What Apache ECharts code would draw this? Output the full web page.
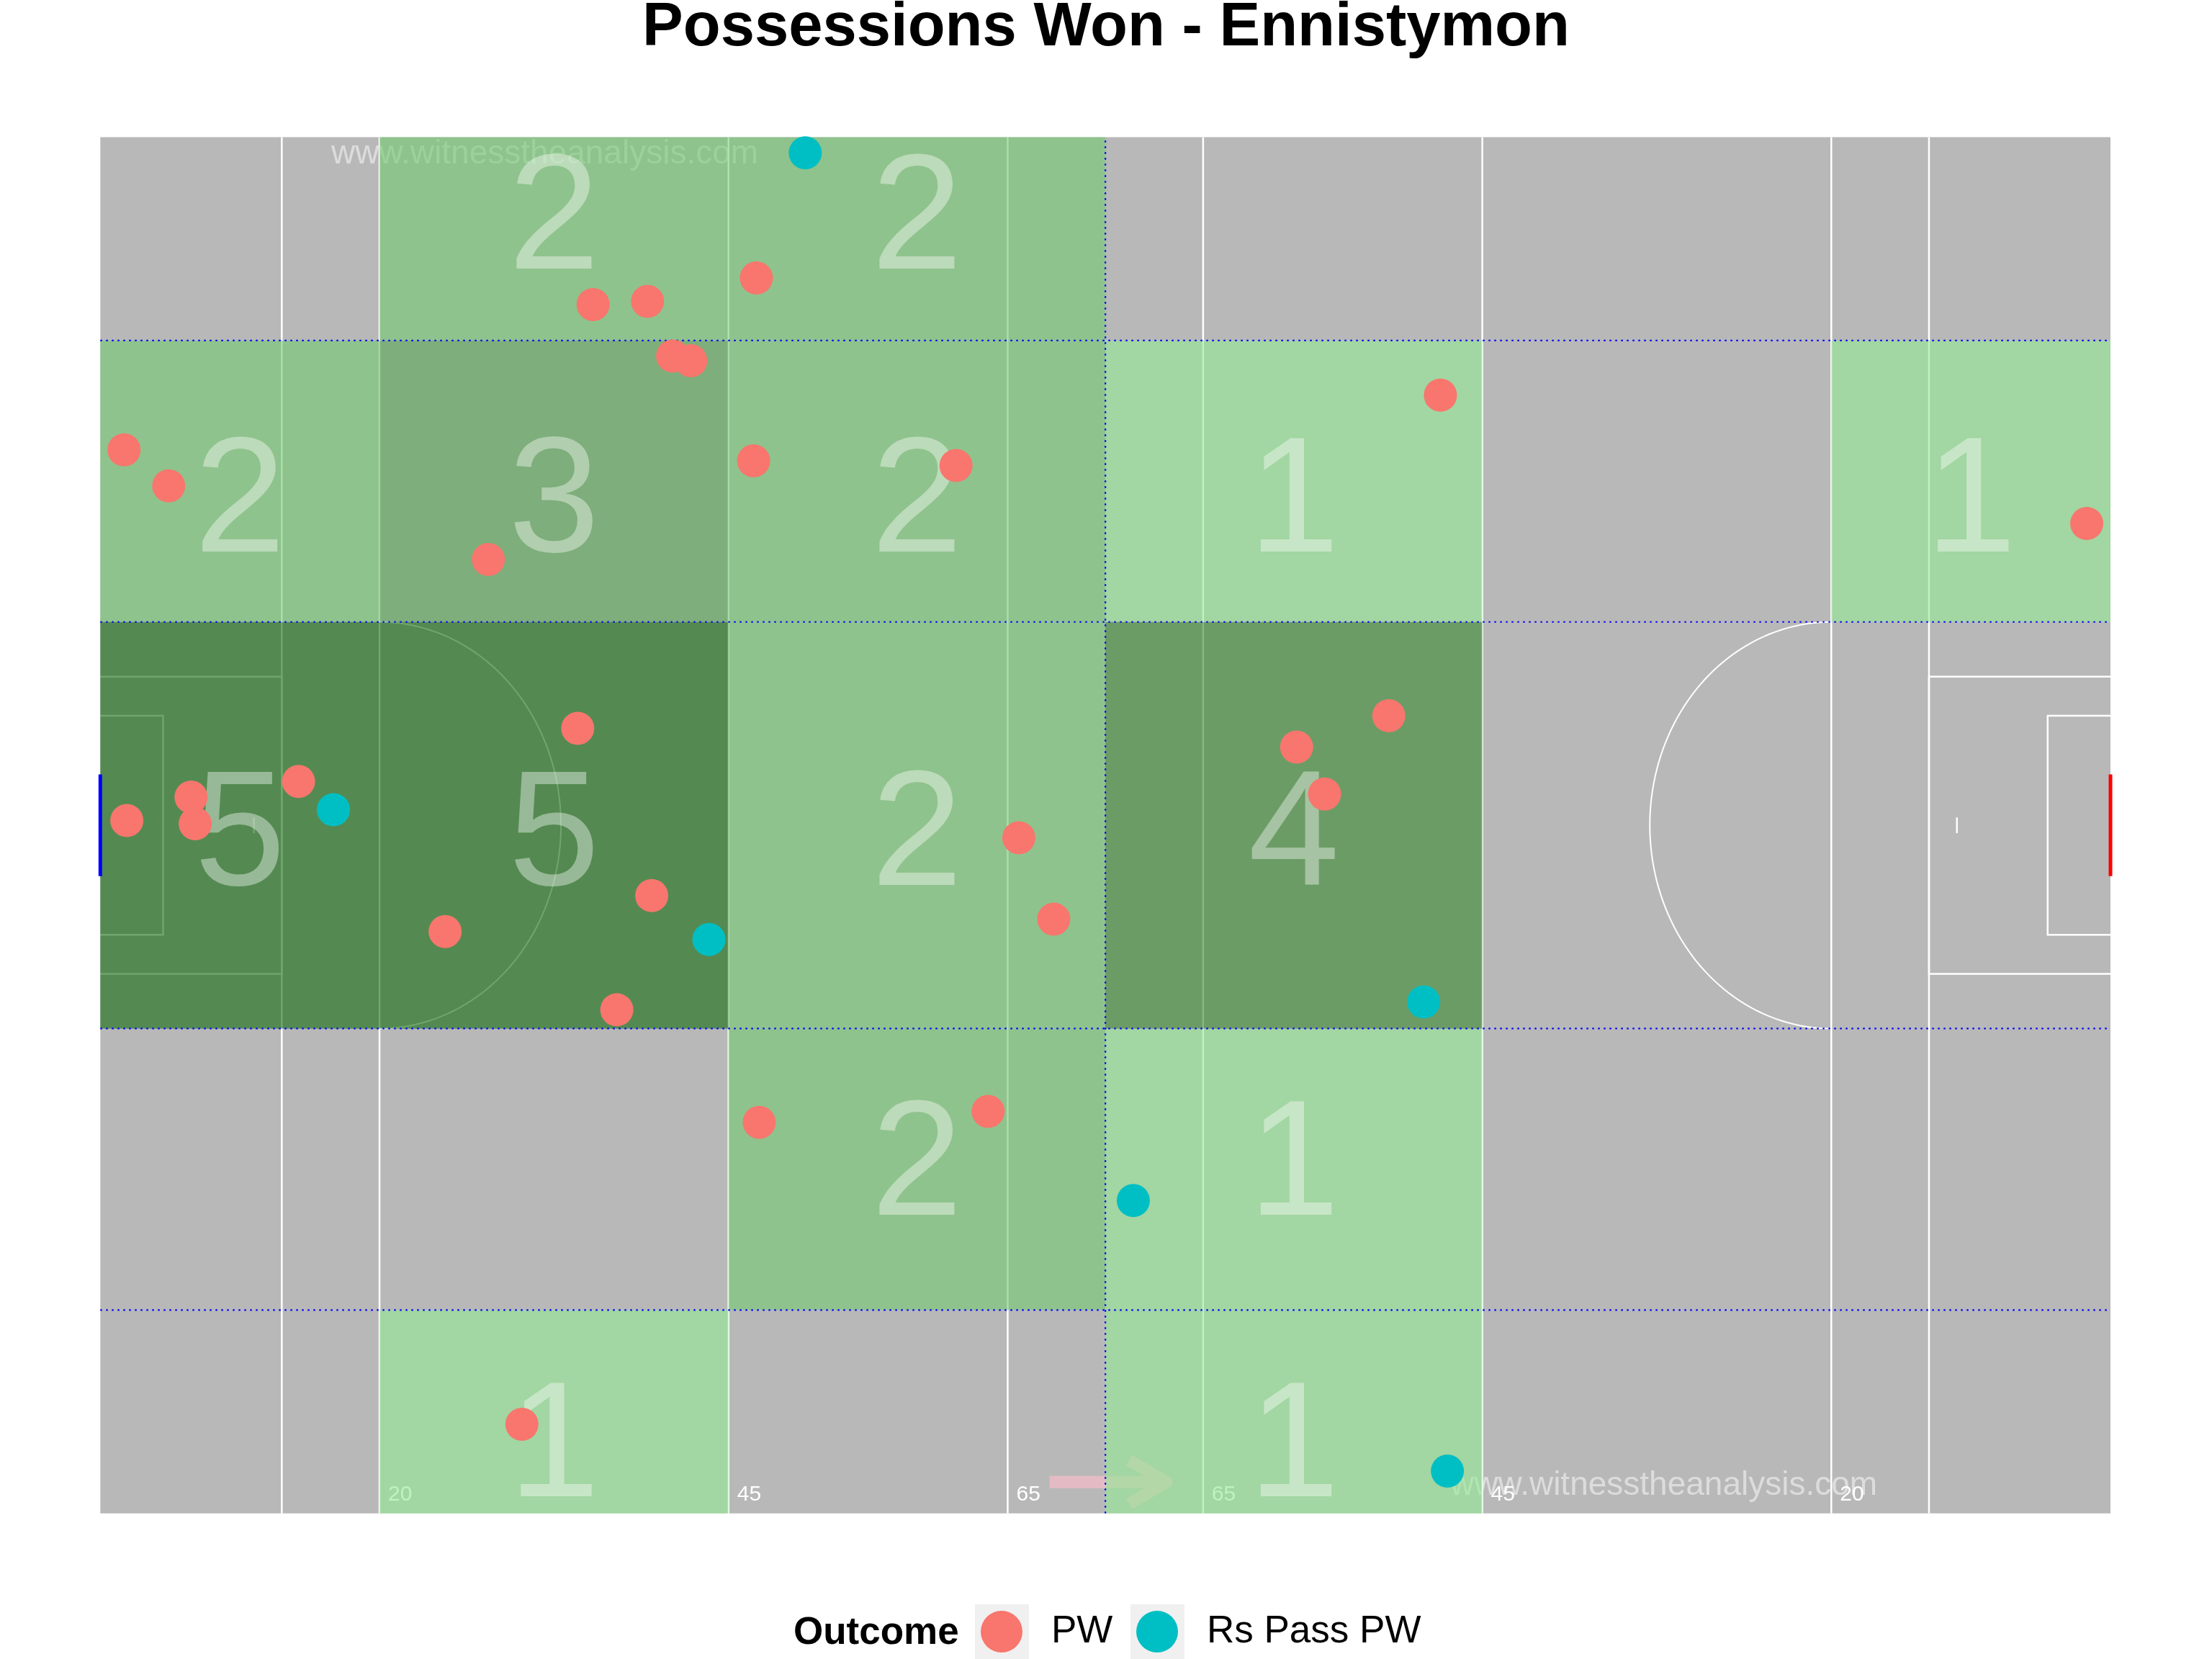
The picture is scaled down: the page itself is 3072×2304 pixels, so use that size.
<!DOCTYPE html>
<html lang="en">
<head>
  <meta charset="UTF-8">
  <title>Possessions Won - Ennistymon</title>
  <script src="https://cdn.jsdelivr.net/npm/echarts@6.0.0/dist/echarts.min.js"></script>
  <style>
    * { margin: 0; padding: 0; }
    html, body { width: 100%; height: 100%; background-color: #fff; }
    #chart { width: 3072px; height: 2304px; }
  </style>
</head>
<body>
<div id="chart"></div>
<script>
  // pitch in metres
  var pitchLength = 144;
  var pitchWidth = 88;
  var zoneX = [0, 20, 45, 72, 99, 124, 144];
  var zoneY = [0, 13, 31, 57, 75, 88];
  var rowLabelY = [4.0, 22.0, 43.1, 64.4, 82.5];
  var pitchLines = [13, 20, 45, 65, 79, 99, 124, 131];
  var distLabelX = [20, 45, 65, 79, 99, 124];
  var distLabels = ['20', '45', '65', '65', '45', '20'];

  var outcomes = ['PW', 'Rs Pass PW'];
  var pwX = [35.3, 39.2, 47.0, 41.0, 42.3, 1.7, 4.9, 27.8, 46.8, 61.3, 96.0, 142.3,
             34.2, 14.2, 6.5, 6.8, 1.9, 39.5, 24.7, 37.0, 65.8, 68.3, 85.7, 92.3, 87.7,
             47.2, 63.6, 30.2];
  var pwY = [77.3, 77.5, 79.0, 74.0, 73.7, 68.0, 65.7, 61.0, 67.3, 67.0, 71.5, 63.3,
             50.2, 46.8, 45.8, 44.1, 44.3, 39.5, 37.2, 32.2, 43.2, 38.0, 49.0, 51.0, 46.0,
             25.0, 25.7, 5.7];
  var rsX = [50.5, 16.7, 43.6, 94.8, 74.0, 96.5];
  var rsY = [87.0, 45.0, 36.7, 32.7, 20.0, 2.7];

  var zoneColors = ['rgba(147,234,147,0.6)', 'rgba(115,201,112,0.6)', 'rgba(87,167,81,0.6)',
                    'rgba(56,137,47,0.6)', 'rgba(16,107,14,0.6)'];

  function zoneIndex(v, edges) {
    for (var i = 0; i < edges.length - 1; i++) {
      if (v >= edges[i] && v < edges[i + 1]) return i;
    }
    return edges.length - 2;
  }

  // count possessions per zone
  var counts = [];
  for (var r = 0; r < zoneY.length - 1; r++) {
    counts.push(new Array(zoneX.length - 1).fill(0));
  }
  function addPoints(xs, ys) {
    for (var i = 0; i < xs.length; i++) {
      counts[zoneIndex(ys[i], zoneY)][zoneIndex(xs[i], zoneX)]++;
    }
  }
  addPoints(pwX, pwY);
  addPoints(rsX, rsY);

  var zoneData = [];
  for (var r = 0; r < zoneY.length - 1; r++) {
    for (var c = 0; c < zoneX.length - 1; c++) {
      if (counts[r][c] > 0) {
        zoneData.push([zoneX[c], zoneY[r], zoneX[c + 1], zoneY[r + 1], counts[r][c], rowLabelY[r]]);
      }
    }
  }

  var dottedData = [];
  for (var i = 1; i < zoneY.length - 1; i++) {
    dottedData.push([0, zoneY[i], pitchLength, zoneY[i]]);
  }
  dottedData.push([pitchLength / 2, 0, pitchLength / 2, pitchWidth]);

  function pairs(xs, ys) {
    return xs.map(function (x, i) { return [x, ys[i]]; });
  }

  var font = '"Liberation Sans", Arial, sans-serif';
  var white = '#ffffff';

  function seg(api, a, b, style) {
    var p = api.coord(a), q = api.coord(b);
    return { type: 'line', shape: { x1: p[0], y1: p[1], x2: q[0], y2: q[1] }, style: style };
  }

  // boxes, arcs, penalty marks for both ends
  function renderMarkings(params, api) {
    var children = [];
    var lineStyle = { stroke: white, lineWidth: 2.5, fill: null };
    var mid = pitchWidth / 2;
    [[0, 1], [pitchLength, -1]].forEach(function (end) {
      var g = end[0], d = end[1];
      var big = [[g, mid - 9.5], [g + d * 13, mid - 9.5], [g + d * 13, mid + 9.5], [g, mid + 9.5]];
      var small = [[g, mid - 7], [g + d * 4.5, mid - 7], [g + d * 4.5, mid + 7], [g, mid + 7]];
      children.push({ type: 'polyline', shape: { points: big.map(api.coord) }, style: lineStyle });
      children.push({ type: 'polyline', shape: { points: small.map(api.coord) }, style: lineStyle });
      children.push(seg(api, [g + d * 11, mid - 0.5], [g + d * 11, mid + 0.5], lineStyle));
      var arc = [];
      for (var a = -90; a <= 90; a += 2) {
        var t = a * Math.PI / 180;
        arc.push(api.coord([g + d * 20 + d * 13 * Math.cos(t), mid + 13 * Math.sin(t)]));
      }
      children.push({ type: 'polyline', shape: { points: arc }, style: { stroke: white, lineWidth: 2, fill: null } });
    });
    return { type: 'group', children: children };
  }

  var chart = echarts.init(document.getElementById('chart'));
  var option = {
    animation: false,
    backgroundColor: '#ffffff',
    title: {
      text: 'Possessions Won - Ennistymon',
      left: 'center',
      top: -8,
      textStyle: { fontFamily: font, fontSize: 85, fontWeight: 'bold', color: '#000' }
    },
    grid: {
      left: 139.3, right: 141, top: 190.5, bottom: 202.3,
      show: true, backgroundColor: '#b8b8b8', borderWidth: 0,
      outerBoundsMode: 'none'
    },
    xAxis: { type: 'value', min: 0, max: pitchLength, show: false },
    yAxis: { type: 'value', min: 0, max: pitchWidth, show: false },
    legend: [
      {
        data: [outcomes[0]], left: 1362, top: 2237, icon: 'circle',
        itemWidth: 58, itemHeight: 58, padding: 0,
        textStyle: { fontFamily: font, fontSize: 53, color: '#000', padding: [0, 0, 0, 35] }
      },
      {
        data: [outcomes[1]], left: 1578, top: 2237, icon: 'circle',
        itemWidth: 58, itemHeight: 58, padding: 0,
        textStyle: { fontFamily: font, fontSize: 53, color: '#000', padding: [0, 0, 0, 35] }
      }
    ],
    graphic: [
      { type: 'rect', z: 0, shape: { x: 1354, y: 2228, width: 75, height: 76 }, style: { fill: '#f0f0f0' } },
      { type: 'rect', z: 0, shape: { x: 1570, y: 2228, width: 75, height: 76 }, style: { fill: '#f0f0f0' } },
      { type: 'text', z: 0, x: 1102, y: 2268,
        style: { text: 'Outcome', font: 'bold 53px ' + font, fill: '#000', verticalAlign: 'middle' } }
    ],
    series: [
      {
        // pitch lines across the full width
        type: 'custom', z: 1, silent: true,
        data: pitchLines.map(function (x) { return [x, 0]; }),
        renderItem: function (params, api) {
          var x = api.value(0);
          return seg(api, [x, 0], [x, pitchWidth], { stroke: white, lineWidth: 2.5 });
        }
      },
      {
        type: 'custom', z: 1, silent: true,
        data: [[0, 0]],
        renderItem: renderMarkings
      },
      {
        // distance labels
        type: 'custom', z: 1, silent: true,
        data: distLabelX.map(function (x, i) { return [x, 1.18, i]; }),
        renderItem: function (params, api) {
          var p = api.coord([api.value(0), api.value(1)]);
          return {
            type: 'text', x: p[0] + 12, y: p[1],
            style: { text: distLabels[api.value(2)], font: '30px ' + font, fill: white, verticalAlign: 'middle' }
          };
        }
      },
      {
        // attacking direction arrow
        type: 'custom', z: 1, silent: true,
        data: [[68, 2]],
        renderItem: function (params, api) {
          var x = api.value(0), y = api.value(1);
          var st = { stroke: '#e4bbc4', lineWidth: 17, fill: null, lineJoin: 'round' };
          return {
            type: 'group', children: [
              seg(api, [x, y], [x + 8.2, y], st),
              { type: 'polyline', shape: { points: [[x + 5.7, y + 1.4], [x + 8.4, y], [x + 5.7, y - 1.4]].map(api.coord) }, style: st }
            ]
          };
        }
      },
      {
        // watermarks
        type: 'custom', z: 1, silent: true,
        data: [[16.54, 86.9], [96.7, 1.78]],
        renderItem: function (params, api) {
          var p = api.coord([api.value(0), api.value(1)]);
          return {
            type: 'text', x: p[0], y: p[1],
            style: { text: 'www.witnesstheanalysis.com', font: '46px ' + font, fill: 'rgba(255,255,255,0.5)', verticalAlign: 'middle' }
          };
        }
      },
      {
        // zone fills
        type: 'custom', z: 2, silent: true,
        data: zoneData,
        renderItem: function (params, api) {
          var p0 = api.coord([api.value(0), api.value(3)]);
          var p1 = api.coord([api.value(2), api.value(1)]);
          return {
            type: 'rect',
            shape: { x: p0[0], y: p0[1], width: p1[0] - p0[0], height: p1[1] - p0[1] },
            style: { fill: zoneColors[api.value(4) - 1] }
          };
        }
      },
      {
        // zone boundaries
        type: 'custom', z: 3, silent: true,
        data: dottedData,
        renderItem: function (params, api) {
          return seg(api, [api.value(0), api.value(1)], [api.value(2), api.value(3)],
            { stroke: '#0000ff', lineWidth: 2.2, lineDash: [2.5, 5.5] });
        }
      },
      {
        // goals
        type: 'custom', z: 3, silent: true,
        data: [[0, 40.75, 47.25, 0], [pitchLength, 40.75, 47.25, 1]],
        renderItem: function (params, api) {
          var x = api.value(0);
          return seg(api, [x, api.value(1)], [x, api.value(2)],
            { stroke: api.value(3) ? '#ff0000' : '#0000ff', lineWidth: 5 });
        }
      },
      {
        // zone counts
        type: 'custom', z: 4, silent: true,
        data: zoneData,
        renderItem: function (params, api) {
          var p = api.coord([(api.value(0) + api.value(2)) / 2, api.value(5)]);
          return {
            type: 'text', x: p[0], y: p[1],
            style: { text: String(api.value(4)), font: '228px ' + font, fill: 'rgba(255,255,255,0.4)', align: 'center', verticalAlign: 'middle' }
          };
        }
      },
      {
        name: outcomes[0], type: 'scatter', z: 10, symbolSize: 46,
        itemStyle: { color: '#F8766D', opacity: 1 },
        emphasis: { disabled: true },
        data: pairs(pwX, pwY)
      },
      {
        name: outcomes[1], type: 'scatter', z: 10, symbolSize: 46,
        itemStyle: { color: '#00BFC4', opacity: 1 },
        emphasis: { disabled: true },
        data: pairs(rsX, rsY)
      }
    ]
  };
  chart.setOption(option);
</script>
</body>
</html>
